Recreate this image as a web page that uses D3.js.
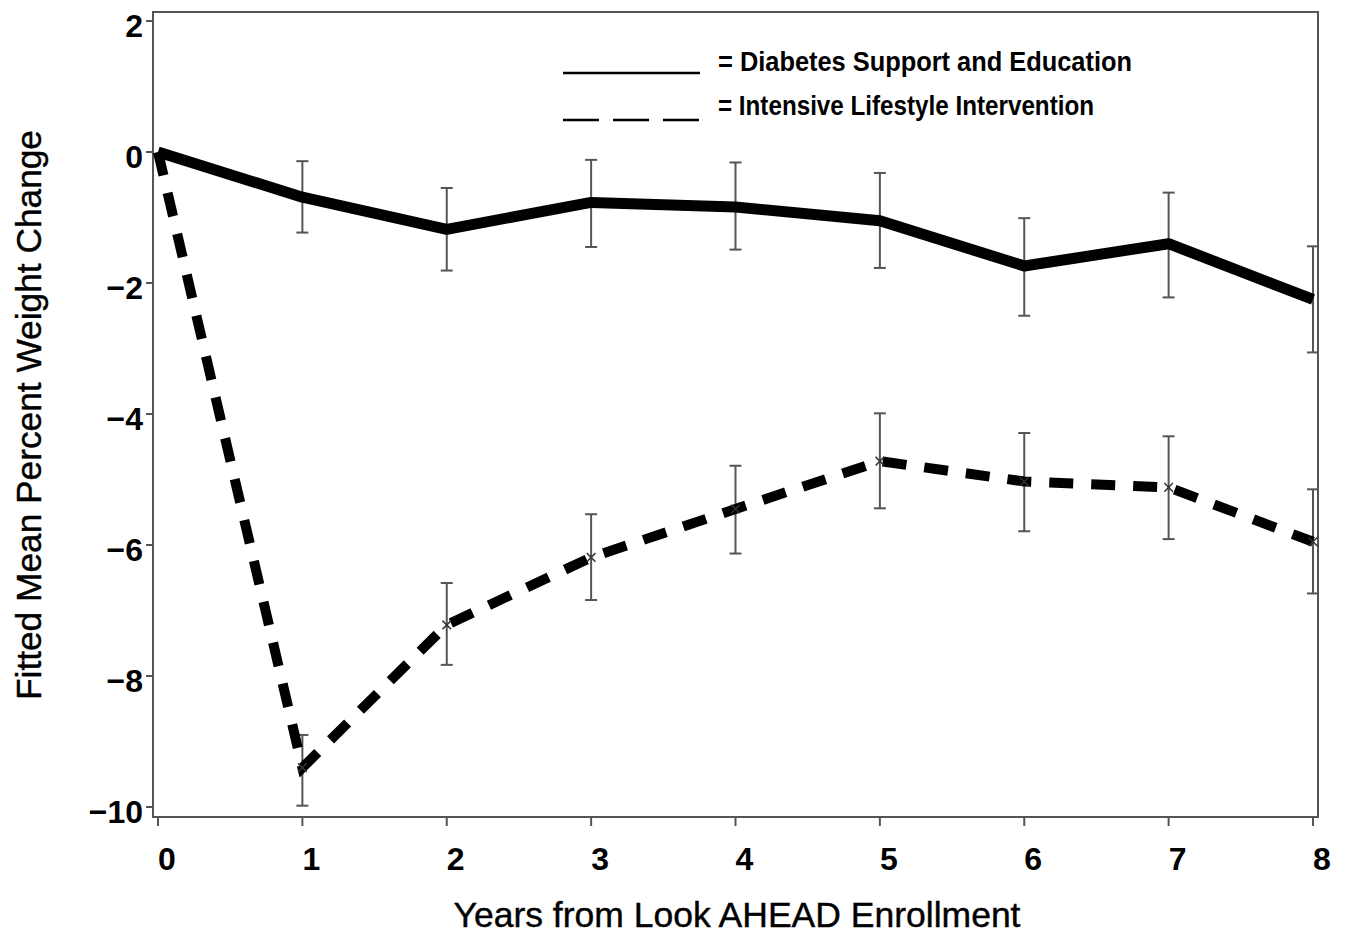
<!DOCTYPE html>
<html>
<head>
<meta charset="utf-8">
<script src="https://cdn.jsdelivr.net/npm/d3@7"></script>
<style>
  body { margin: 0; background: #fff; }
  text { font-family: "Liberation Sans", Arial, Helvetica, sans-serif; fill: #000; }
</style>
</head>
<body>
<div id="chart"></div>
<script>
// years on the x axis
const years = [0, 1, 2, 3, 4, 5, 6, 7, 8];

// Diabetes Support and Education (solid)
const dseMean = [0, -0.69, -1.18, -0.77, -0.84, -1.05, -1.74, -1.40, -2.25];
const dseUpper = [null, -0.14, -0.55, -0.12, -0.16, -0.32, -1.01, -0.62, -1.44];
const dseLower = [null, -1.23, -1.81, -1.45, -1.49, -1.77, -2.50, -2.22, -3.06];

// Intensive Lifestyle Intervention (dashed)
const iliMean = [0, -9.40, -7.22, -6.19, -5.45, -4.72, -5.03, -5.12, -5.95];
const iliUpper = [null, -8.90, -6.58, -5.53, -4.79, -3.99, -4.29, -4.34, -5.15];
const iliLower = [null, -9.98, -7.83, -6.84, -6.13, -5.44, -5.79, -5.91, -6.74];

const yTicks = [2, 0, -2, -4, -6, -8, -10];
const xTicks = years;

const legendLabels = ["= Diabetes Support and Education", "= Intensive Lifestyle Intervention"];

const W = 1350, H = 937;
const margin = { top: 12, right: 32, bottom: 120, left: 153 };
const width = W - margin.left - margin.right;
const height = H - margin.top - margin.bottom;

const svg = d3.select("#chart").append("svg")
    .attr("width", W)
    .attr("height", H);

const g = svg.append("g")
    .attr("transform", `translate(${margin.left},${margin.top})`);

const x = d3.scaleLinear().domain([0, 8]).range([5, width - 5]);
const y = d3.scaleLinear().domain([0, -10]).range([140, 795]);

// frame
g.append("rect")
    .attr("x", 0).attr("y", 0)
    .attr("width", width).attr("height", height)
    .attr("fill", "none")
    .attr("stroke", "#555")
    .attr("stroke-width", 2);

// y axis ticks + labels
g.selectAll("line.ytick")
    .data(yTicks).enter().append("line")
    .attr("x1", -7).attr("x2", 0)
    .attr("y1", d => y(d)).attr("y2", d => y(d))
    .attr("stroke", "#555").attr("stroke-width", 2);

g.selectAll("text.ylab")
    .data(yTicks).enter().append("text")
    .attr("x", -10)
    .attr("y", d => y(d) + 16)
    .attr("text-anchor", "end")
    .style("font-size", "32px")
    .style("font-weight", "bold")
    .text(d => d < 0 ? "\u2212" + Math.abs(d) : d);

// x axis ticks + labels
g.selectAll("line.xtick")
    .data(xTicks).enter().append("line")
    .attr("x1", d => x(d)).attr("x2", d => x(d))
    .attr("y1", height).attr("y2", height + 9)
    .attr("stroke", "#555").attr("stroke-width", 2);

g.selectAll("text.xlab")
    .data(xTicks).enter().append("text")
    .attr("x", d => x(d) + 9)
    .attr("y", height + 53)
    .attr("text-anchor", "middle")
    .style("font-size", "32px")
    .style("font-weight", "bold")
    .text(d => d);

// axis titles
svg.append("text")
    .attr("x", 737)
    .attr("y", 927)
    .attr("text-anchor", "middle")
    .attr("textLength", 567)
    .attr("lengthAdjust", "spacingAndGlyphs")
    .style("font-size", "35px")
    .style("stroke", "#000").style("stroke-width", 0.4)
    .text("Years from Look AHEAD Enrollment");

svg.append("text")
    .attr("transform", "translate(41,415) rotate(-90)")
    .attr("text-anchor", "middle")
    .attr("textLength", 570)
    .attr("lengthAdjust", "spacingAndGlyphs")
    .style("font-size", "35px")
    .style("stroke", "#000").style("stroke-width", 0.4)
    .text("Fitted Mean Percent Weight Change");

// error bars
function errorBars(upper, lower) {
    const idx = years.map((d, i) => i).filter(i => upper[i] !== null);
    const eb = g.append("g").attr("stroke", "#555").attr("stroke-width", 2);
    eb.selectAll("line.v").data(idx).enter().append("line")
        .attr("x1", i => x(years[i])).attr("x2", i => x(years[i]))
        .attr("y1", i => y(upper[i])).attr("y2", i => y(lower[i]));
    eb.selectAll("line.t").data(idx).enter().append("line")
        .attr("x1", i => x(years[i]) - 6).attr("x2", i => x(years[i]) + 6)
        .attr("y1", i => y(upper[i])).attr("y2", i => y(upper[i]));
    eb.selectAll("line.b").data(idx).enter().append("line")
        .attr("x1", i => x(years[i]) - 6).attr("x2", i => x(years[i]) + 6)
        .attr("y1", i => y(lower[i])).attr("y2", i => y(lower[i]));
}
errorBars(dseUpper, dseLower);
errorBars(iliUpper, iliLower);

const line = d3.line()
    .x((d, i) => x(years[i]))
    .y(d => y(d));

g.append("path")
    .datum(dseMean)
    .attr("fill", "none")
    .attr("stroke", "#000")
    .attr("stroke-width", 11)
    .attr("stroke-linejoin", "round")
    .attr("d", line);

g.append("path")
    .datum(iliMean)
    .attr("fill", "none")
    .attr("stroke", "#000")
    .attr("stroke-width", 10)
    .attr("stroke-dasharray", "24,18")
    .attr("d", line);

// small x markers on the ILI points
g.selectAll("path.mark")
    .data(iliMean.slice(1)).enter().append("path")
    .attr("transform", (d, i) => `translate(${x(years[i + 1])},${y(d)})`)
    .attr("d", d3.symbol().type(d3.symbolX).size(50))
    .attr("fill", "none")
    .attr("stroke", "#333")
    .attr("stroke-width", 1.5);

// legend
const legend = svg.append("g");
legend.append("line")
    .attr("x1", 563).attr("x2", 700)
    .attr("y1", 73).attr("y2", 73)
    .attr("stroke", "#000").attr("stroke-width", 2.5);
legend.append("line")
    .attr("x1", 563).attr("x2", 700)
    .attr("y1", 120).attr("y2", 120)
    .attr("stroke", "#000").attr("stroke-width", 2.5)
    .attr("stroke-dasharray", "36,14");

legend.selectAll("text")
    .data(legendLabels).enter().append("text")
    .attr("x", 718)
    .attr("y", (d, i) => 71 + i * 44)
    .attr("textLength", (d, i) => i === 0 ? 414 : 376)
    .attr("lengthAdjust", "spacingAndGlyphs")
    .style("font-size", "27px")
    .style("font-weight", "bold")
    .text(d => d);
</script>
</body>
</html>
